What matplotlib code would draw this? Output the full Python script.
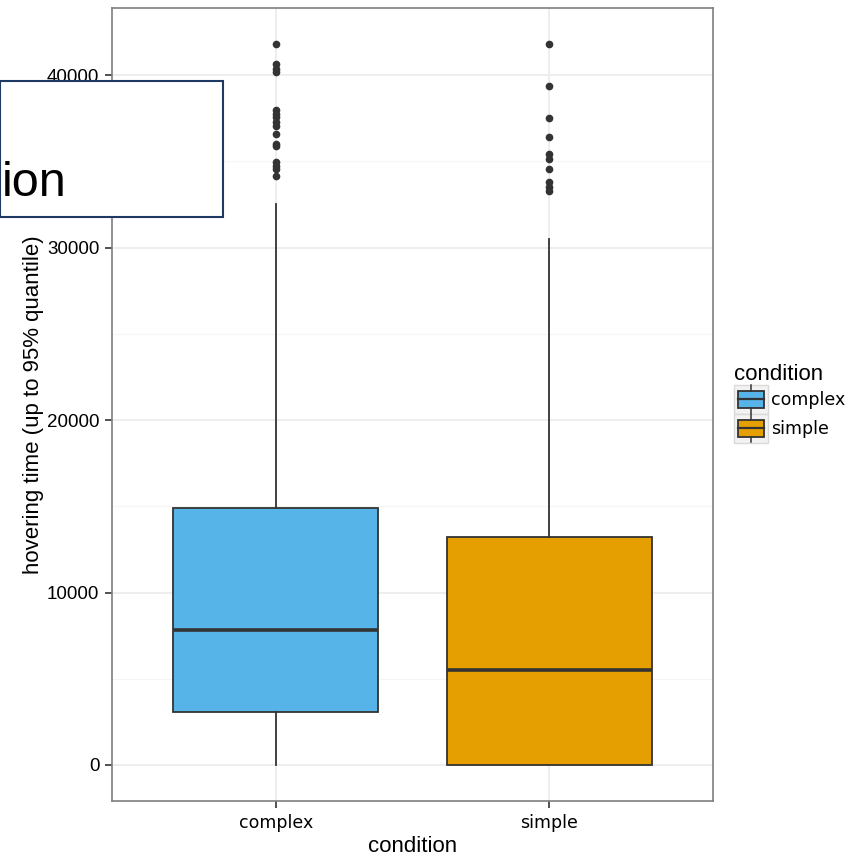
import matplotlib
matplotlib.use("Agg")
import matplotlib.pyplot as plt
from matplotlib.patches import Rectangle
from matplotlib.lines import Line2D
from matplotlib.legend_handler import HandlerBase

# values
categories = ["complex", "simple"]
colors = ["#56B4E9", "#E69F00"]
q1 = [3070, 0]
medians = [7830, 5510]
q3 = [14900, 13220]
whisker_low = [0, 0]
whisker_high = [32500, 30500]
outliers = [
    [41800, 40650, 40350, 40150, 37990, 37750, 37550, 37300, 37060,
     36580, 36000, 35880, 34940, 34750, 34550, 34170],
    [41800, 39380, 37490, 36430, 35400, 35130, 34550, 33800, 33500, 33300],
]
yticks = [0, 10000, 20000, 30000, 40000]

edge = "#333333"

fig = plt.figure(figsize=(8.53, 8.58), dpi=100)
ax = fig.add_axes([0.1313, 0.0664, 0.7046, 0.9243])

stats = []
for i, name in enumerate(categories):
    stats.append(dict(label=name, q1=q1[i], med=medians[i], q3=q3[i],
                      whislo=whisker_low[i], whishi=whisker_high[i],
                      fliers=outliers[i]))

bp = ax.bxp(stats, positions=[1, 2], widths=0.75, patch_artist=True,
            showcaps=False,
            boxprops=dict(edgecolor=edge, linewidth=1.3),
            medianprops=dict(color=edge, linewidth=2.6),
            whiskerprops=dict(color=edge, linewidth=1.3),
            flierprops=dict(marker="o", markersize=4.5, markerfacecolor=edge,
                            markeredgecolor=edge, linestyle="none"))
for patch, c in zip(bp["boxes"], colors):
    patch.set_facecolor(c)

ax.set_xlim(0.4, 2.6)
ax.set_ylim(-2090, 43890)
ax.set_yticks(yticks)
ax.set_yticks([5000, 15000, 25000, 35000], minor=True)
ax.set_xticks([1, 2])
ax.set_xticklabels(categories, fontsize=12.5, family="DejaVu Sans")
ax.tick_params(axis="both", which="major", length=5, color=edge, width=1.2, pad=4)
ax.tick_params(axis="y", which="minor", length=0)
ax.tick_params(axis="y", labelsize=13.5)
for lab in ax.get_yticklabels():
    lab.set_family("Liberation Sans")
ax.grid(True, which="major", color="#ebebeb", linewidth=1.2)
ax.grid(True, which="minor", axis="y", color="#f5f5f5", linewidth=0.8)
ax.set_axisbelow(True)
for sp in ax.spines.values():
    sp.set_color("#7f7f7f")
    sp.set_linewidth(1.2)

ax.set_xlabel("condition", fontsize=16, family="Liberation Sans", labelpad=3)
ax.set_ylabel("hovering time (up to 95% quantile)", fontsize=16,
              family="Liberation Sans", labelpad=2)


class BoxKey(HandlerBase):
    def create_artists(self, legend, orig, xd, yd, w, h, fontsize, trans):
        fc = orig.get_facecolor()
        x0, y0 = -xd, -yd
        bg = Rectangle((x0, y0), w, h, facecolor="#f2f2f2",
                       edgecolor="#d9d9d9", lw=1.0, transform=trans)
        box = Rectangle((x0 + w * 0.12, y0 + h * 0.22), w * 0.76, h * 0.56,
                        facecolor=fc, edgecolor=edge, lw=1.3, transform=trans)
        mid = Line2D([x0 + w * 0.12, x0 + w * 0.88], [y0 + h / 2] * 2,
                     color=edge, lw=1.6, transform=trans)
        wt = Line2D([x0 + w / 2] * 2, [y0 + h * 0.78, y0 + h * 0.98],
                    color=edge, lw=1.1, transform=trans)
        wb = Line2D([x0 + w / 2] * 2, [y0 + h * 0.02, y0 + h * 0.22],
                    color=edge, lw=1.1, transform=trans)
        return [bg, box, mid, wt, wb]


handles = [Rectangle((0, 0), 1, 1, facecolor=c) for c in colors]
leg = fig.legend(handles, categories, title="condition", loc="upper left",
                 bbox_to_anchor=(0.856, 0.580), frameon=False,
                 handler_map={Rectangle: BoxKey()}, handlelength=2.0,
                 handleheight=2.2, handletextpad=0.15, labelspacing=0.0,
                 borderaxespad=0, borderpad=0.2,
                 prop=dict(family="DejaVu Sans", size=12.5))
leg.get_title().set_fontsize(16)
leg.get_title().set_family("Liberation Sans")
leg._legend_box.align = "left"

# overlay box on top-left
fig.patches.append(Rectangle((0, 0.7471), 0.2614, 0.1585, transform=fig.transFigure,
                             facecolor="white", edgecolor="#1f3864", lw=1.5,
                             zorder=10))
fig.text(0.002, 0.771, "ion", fontsize=35, family="Liberation Sans",
         color="black", zorder=11)

fig.savefig("out.png", dpi=100, facecolor="white")
